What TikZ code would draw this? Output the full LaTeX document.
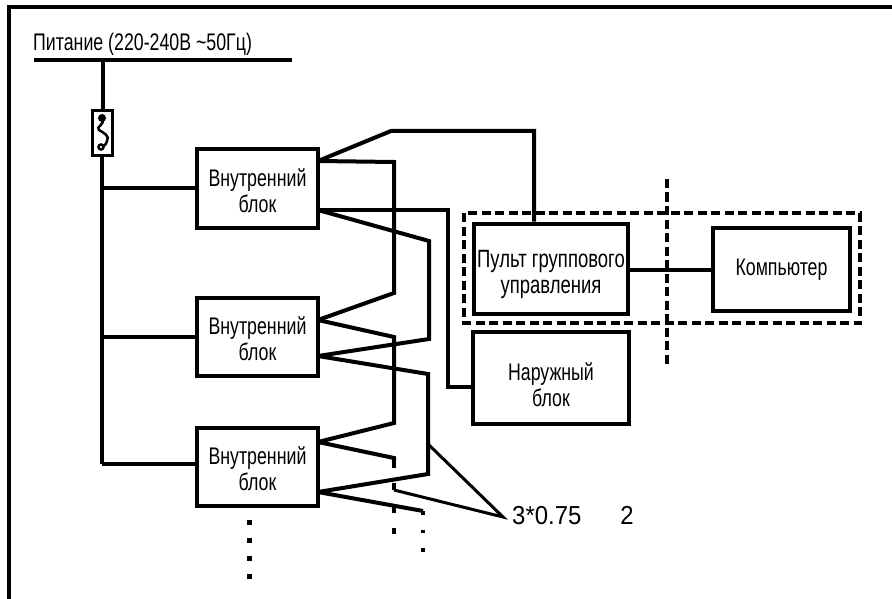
\documentclass[tikz,border=0pt]{standalone}
\usepackage{fontspec}
\setmainfont[FakeStretch=0.74]{Liberation Sans}
\newfontfamily\sectionfont[FakeStretch=0.92]{Liberation Sans}
\usetikzlibrary{positioning}

\begin{document}
\begin{tikzpicture}[
    x=1pt, y=-1pt,
    box/.style={rectangle, draw, line width=4pt, align=center, inner sep=0pt, text height=48pt, minimum width=121pt, minimum height=78pt, font=\fontsize{24}{26}\selectfont},
    wire/.style={line width=4pt, line join=miter},
    dashline/.style={line width=3.5pt, dash pattern=on 9pt off 4.5pt},
    dotline/.style={line width=5pt, dash pattern=on 5pt off 13pt},
    leader/.style={line width=3pt},
    label/.style={inner sep=0pt, font=\fontsize{24}{26}\selectfont}
]
\useasboundingbox (0,0) rectangle (892,599);

% Frame
\coordinate (frameA) at (9,599);
\coordinate (frameB) at (9,7);
\coordinate (frameC) at (892,7);
\draw[wire] (frameA) -- (frameB) -- (frameC);

% Nodes using absolute positioning
\node[label, anchor=west] (power) at (33,44) {Питание (220-240В \char"007E 50Гц)};
\node[rectangle, draw, line width=3pt, minimum width=20pt, minimum height=45pt, inner sep=0pt] (fuse) at (102,133) {};
\node[box] (block1) at (257.5,188.5) {Внутренний\\блок};
\node[box] (block2) at (257.5,337) {Внутренний\\блок};
\node[box] (block3) at (257.5,467) {Внутренний\\блок};
\node[box, text height=56pt, minimum width=154pt, minimum height=90pt, font=\fontsize{25}{26}\selectfont] (group) at (551,268.5) {Пульт группового\\управления};
\node[box, text height=17pt, minimum width=137pt, minimum height=83pt] (computer) at (781.5,269.5) {Компьютер};
\node[box, text height=57pt, minimum width=156pt, minimum height=92pt] (outdoor) at (551,378) {Наружный\\блок};
\node[inner sep=0pt, anchor=west, font=\sectionfont\fontsize{26}{28}\selectfont] (section) at (512,516) {3*0.75\hspace{39pt}2};

% Power line
\coordinate (busL) at (34,60);
\coordinate (busR) at (292,60);
\coordinate (busT) at (103,60);
\coordinate (riserB) at (102,464);
\draw[wire] (busL) -- (busR);
\draw[wire] (busT) -- (fuse.north -| busT);
\draw[line width=4.5pt] (fuse.south) -- (riserB);
\draw[wire] (block1.west) -- (block1.west -| riserB);
\draw[wire] (block2.west) -- (block2.west -| riserB);
\draw[wire] (riserB) -- (riserB -| block3.west);

% Fuse symbol
\fill (102,118) circle (4);
\draw[line width=2.5pt] (102,119) .. controls (106,124) and (95,127) .. (99,130) .. controls (104,133) and (110,136) .. (107,141) .. controls (106,145) and (104,146) .. (102,146);
\draw[line width=2.5pt] (101,147) circle (2.5);

% Cable ports
\coordinate (p1a) at (318,161);
\coordinate (p1b) at (318,210);
\coordinate (p2a) at (318,320);
\coordinate (p2b) at (318,356);
\coordinate (p3a) at (318,442);
\coordinate (p3b) at (318,492);

% Wires
\draw[wire] (p1a) -- (391,131) -- (534,131) -- (group.north -| 534,0);
\draw[wire] (p1a) -- (394,162) -- (394,293) -- (p2a);
\draw[wire] (p1b) -- (448,210) -- (448,387) -- (outdoor.west |- 448,387);
\draw[wire] (p1b) -- (429,241) -- (429,339) -- (p2b);
\draw[wire] (p2a) -- (394,337) -- (394,423) -- (p3a);
\draw[wire] (p2b) -- (428,374) -- (428,474) -- (p3b);
\draw[wire] (p3a) -- (394,458) -- (394,460);
\draw[wire] (p3b) -- (423,511);
\draw[wire] (group.east |- computer.west) -- (computer.west);

% Open ends
\coordinate (ext1T) at (394,460);
\coordinate (ext1B) at (394,534);
\coordinate (ext2T) at (423,511);
\coordinate (ext2B) at (423,552);
\coordinate (dotsT) at (249,519.5);
\coordinate (dotsB) at (249,580);
\draw[line width=4pt, dash pattern=on 7.5pt off 15pt] (ext1T) -- (ext1B);
\draw[line width=3.5pt, dash pattern=on 3.5pt off 15pt] (ext2T) -- (ext2B);
\draw[dotline] (dotsT) -- (dotsB);

% Leaders
\coordinate (lead1) at (429,445);
\coordinate (lead2) at (394,490);
\coordinate (leadTip) at (503,517);
\draw[leader] (lead1) -- (leadTip) -- (lead2);

% Dashed outlines
\coordinate (groupNW) at (464,213);
\coordinate (groupSE) at (860,323);
\coordinate (cutT) at (667,179);
\coordinate (cutB) at (667,364);
\draw[dashline] (groupNW) rectangle (groupSE);
\draw[dashline] (cutT) -- (cutB);

\end{tikzpicture}
\end{document}
